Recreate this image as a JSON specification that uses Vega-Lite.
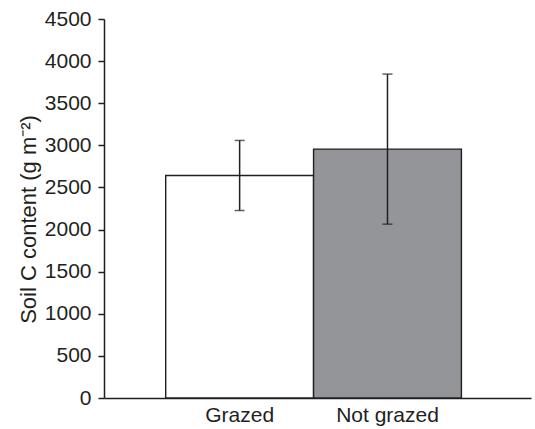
{
  "$schema": "https://vega.github.io/schema/vega-lite/v6.json",
  "width": 427,
  "height": 379,
  "autosize": "none",
  "padding": {"left": 104, "top": 19, "right": 4, "bottom": 31},
  "background": "white",
  "config": {"view": {"stroke": null}, "font": "Liberation Sans"},
  "data": {
    "values": [
      {"group": "Grazed", "mean": 2641, "lo": 2226, "hi": 3058},
      {"group": "Not grazed", "mean": 2955, "lo": 2064, "hi": 3846}
    ]
  },
  "encoding": {
    "x": {
      "field": "group",
      "type": "nominal",
      "sort": ["Grazed", "Not grazed"],
      "scale": {"paddingInner": 0, "paddingOuter": 0.444, "align": 0.47},
      "axis": {
        "title": null,
        "labelAngle": 0,
        "ticks": false,
        "domainColor": "#231f20",
        "domainWidth": 1.5,
        "labelFontSize": 21,
        "labelColor": "#231f20",
        "labelPadding": 6
      }
    }
  },
  "layer": [
    {
      "mark": {"type": "bar", "stroke": "#231f20", "strokeWidth": 1.4},
      "encoding": {
        "y": {
          "field": "mean",
          "type": "quantitative",
          "scale": {"domain": [0, 4500], "nice": false},
          "axis": {
            "values": [0, 500, 1000, 1500, 2000, 2500, 3000, 3500, 4000, 4500],
            "format": "d",
            "grid": false,
            "domainColor": "#231f20",
            "domainWidth": 1.5,
            "tickColor": "#231f20",
            "tickWidth": 1.5,
            "tickSize": 6,
            "labelFontSize": 21,
            "labelColor": "#231f20",
            "labelPadding": 7,
            "title": "Soil C content (g m⁻²)",
            "titleFontSize": 22,
            "titleFontWeight": "normal",
            "titleColor": "#231f20",
            "titlePadding": 4,
            "titleY": 200
          }
        },
        "color": {
          "field": "group",
          "type": "nominal",
          "scale": {"domain": ["Grazed", "Not grazed"], "range": ["#ffffff", "#939598"]},
          "legend": null
        }
      }
    },
    {
      "mark": {"type": "rule", "color": "#231f20", "strokeWidth": 1.5},
      "encoding": {
        "y": {"field": "lo", "type": "quantitative"},
        "y2": {"field": "hi"}
      }
    },
    {
      "mark": {"type": "tick", "color": "#231f20", "size": 10, "thickness": 1.5},
      "encoding": {"y": {"field": "lo", "type": "quantitative"}}
    },
    {
      "mark": {"type": "tick", "color": "#231f20", "size": 10, "thickness": 1.5},
      "encoding": {"y": {"field": "hi", "type": "quantitative"}}
    }
  ]
}
